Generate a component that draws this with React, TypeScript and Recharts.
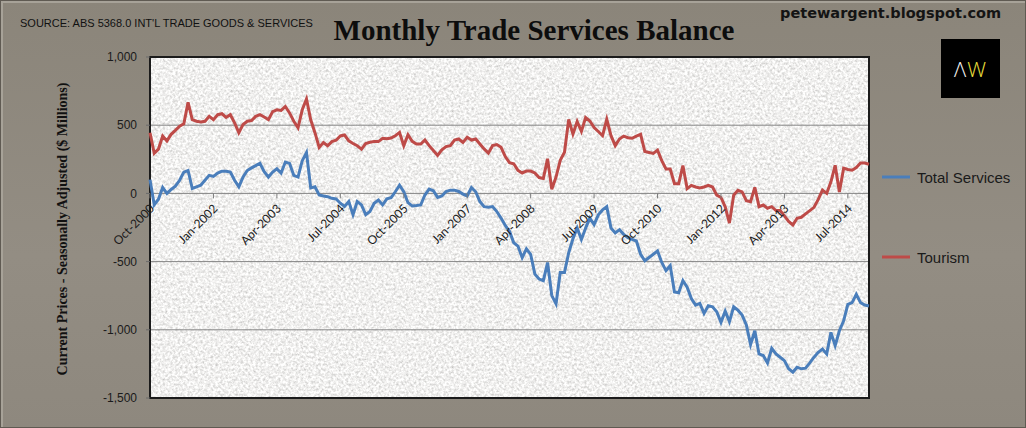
import React from 'react';
import {
  LineChart,
  Line,
  XAxis,
  YAxis,
  CartesianGrid,
  ReferenceDot,
  ReferenceArea,
  Legend,
} from 'recharts';

const MONTH_NAMES = ['Jan', 'Feb', 'Mar', 'Apr', 'May', 'Jun', 'Jul', 'Aug', 'Sep', 'Oct', 'Nov', 'Dec'];
const START_YEAR = 2000;
const START_MONTH = 9; // Oct-2000

// Total services balance, $m, monthly from Oct-2000
const TOTAL_SERVICES = [
  101, -84, -43, 43, 0, 29, 53, 96, 156, 168,
  36, 48, 60, 96, 132, 125, 149, 163, 163, 156,
  96, 48, 120, 168, 187, 204, 221, 160, 120, 156,
  180, 149, 230, 220, 132, 120, 240, 300, 40, 48,
  -12, -19, -24, -36, -41, -72, -96, -60, -156, -60,
  -84, -156, -132, -72, -48, -84, -40, -31, 12, 60,
  12, -68, -92, -89, -85, -12, 31, 19, -29, -19,
  14, 24, 24, 14, -5, -19, 43, 12, -60, -97,
  -101, -97, -133, -181, -235, -278, -362, -386, -471, -406,
  -447, -592, -628, -640, -507, -749, -809, -580, -580, -435,
  -333, -254, -338, -254, -181, -229, -157, -121, -97, -254,
  -290, -266, -300, -325, -337, -349, -446, -494, -470, -446,
  -422, -506, -566, -530, -723, -728, -639, -687, -771, -819,
  -807, -880, -824, -831, -868, -945, -863, -940, -831, -856,
  -892, -964, -1108, -1007, -1177, -1189, -1243, -1136, -1177, -1201,
  -1226, -1286, -1310, -1274, -1286, -1281, -1243, -1201, -1165, -1141,
  -1177, -1019, -1116, -1007, -934, -813, -801, -740, -801, -818, -825,
];

// Tourism balance, $m
const TOURISM = [
  445, 294, 325, 421, 385, 433, 462, 493, 510, 668,
  541, 529, 524, 529, 565, 541, 577, 584, 558, 577,
  517, 445, 505, 529, 534, 565, 577, 560, 541, 600,
  613, 608, 637, 590, 529, 481, 613, 692, 540, 445,
  337, 373, 349, 380, 390, 421, 428, 385, 366, 349,
  325, 366, 375, 380, 380, 404, 400, 406, 423, 447,
  350, 430, 382, 362, 362, 391, 350, 314, 278, 319,
  343, 350, 391, 399, 374, 411, 391, 399, 362, 326,
  295, 350, 358, 338, 270, 225, 217, 169, 150, 164,
  164, 150, 116, 110, 254, 30, 120, 242, 302, 543,
  435, 527, 454, 556, 531, 483, 454, 423, 543, 423,
  350, 399, 420, 408, 404, 420, 433, 307, 300, 293,
  317, 240, 179, 179, 71, 71, 204, 35, 59, 47,
  40, 47, 59, 47, -13, -30, -98, -218, -13, 23,
  11, -53, -61, 44, -97, -85, -109, -97, -126, -126,
  -165, -206, -231, -182, -175, -150, -126, -102, -44, 24,
  0, 85, 206, 10, 185, 175, 170, 189, 223, 223, 214,
];

const MONTHS = TOTAL_SERVICES.map((_, i) => {
  const m = START_MONTH + i;
  return `${MONTH_NAMES[m % 12]}-${START_YEAR + Math.floor(m / 12)}`;
});

const TICK_LABELS = [
  'Oct-2000', 'Jan-2002', 'Apr-2003', 'Jul-2004', 'Oct-2005', 'Jan-2007',
  'Apr-2008', 'Jul-2009', 'Oct-2010', 'Jan-2012', 'Apr-2013', 'Jul-2014',
];
const Y_TICKS = [-1500, -1000, -500, 0, 500, 1000];

const data = MONTHS.map((m, i) => ({ m, total: TOTAL_SERVICES[i], tourism: TOURISM[i] }));

const BLUE = '#4a7ebb';
const RED = '#be4b48';

// tick mark + rotated label sitting on the zero line
function ZeroAxisTick(props: any) {
  const { cx, cy, label } = props;
  const tx = cx + 5;
  const ty = cy + 16;
  return (
    <g>
      <line x1={cx} y1={cy} x2={cx} y2={cy + 5} stroke="#7d7d7d" strokeWidth={1} />
      <text
        x={tx}
        y={ty}
        transform={`rotate(-45 ${tx} ${ty})`}
        textAnchor="end"
        fontFamily="Lato, 'Liberation Sans', sans-serif"
        fontSize={12}
        fill="#1a1a1a"
      >
        {label}
      </text>
    </g>
  );
}

function renderLegend(props: any) {
  const { payload = [] } = props;
  return (
    <div>
      {payload.map((entry: any) => (
        <div key={entry.value} style={{ display: 'flex', alignItems: 'center', height: 80 }}>
          <svg width={28} height={6} style={{ marginRight: 7 }}>
            <line x1={0} y1={3} x2={28} y2={3} stroke={entry.color} strokeWidth={3} />
          </svg>
          <span style={{ fontFamily: "'Liberation Sans', Arial, sans-serif", fontSize: 15, color: '#1a1a1a' }}>
            {entry.value}
          </span>
        </div>
      ))}
    </div>
  );
}

export default function App() {
  return (
    <div
      style={{
        position: 'absolute',
        left: 0,
        top: 0,
        width: 1026,
        height: 428,
        background: 'linear-gradient(180deg, #8b857a 0%, #938d83 60%, #8e887e 100%)',
        boxShadow: 'inset 0 0 0 1px #5f5a52, inset 2px 2px 0 1px #a7a298',
        overflow: 'hidden',
      }}
    >
      <svg width={0} height={0} style={{ position: 'absolute' }}>
        <defs>
          <filter id="grain" x="0" y="0" width="100%" height="100%">
            <feTurbulence type="fractalNoise" baseFrequency="0.4" numOctaves={4} seed={7} stitchTiles="stitch" />
            <feColorMatrix
              type="matrix"
              values="0.75 0 0 0 0.5  0.75 0 0 0 0.495  0.75 0 0 0 0.485  0 0 0 0 1"
            />
          </filter>
          <pattern id="stone" patternUnits="userSpaceOnUse" width={256} height={256}>
            <rect width={256} height={256} fill="#dcdad6" filter="url(#grain)" />
          </pattern>
        </defs>
      </svg>

      <div
        style={{
          position: 'absolute',
          left: 20,
          top: 17,
          fontFamily: "'Liberation Sans', Arial, sans-serif",
          fontSize: 11,
          color: '#111',
          whiteSpace: 'nowrap',
        }}
      >
        SOURCE: ABS 5368.0 INT'L TRADE GOODS &amp; SERVICES
      </div>
      <div
        style={{
          position: 'absolute',
          left: 534,
          top: 14,
          transform: 'translateX(-50%)',
          fontFamily: "'Liberation Serif', 'Times New Roman', serif",
          fontWeight: 'bold',
          fontSize: 29,
          color: '#0d0d0d',
          whiteSpace: 'nowrap',
        }}
      >
        Monthly Trade Services Balance
      </div>
      <div
        style={{
          position: 'absolute',
          left: 780,
          top: 5,
          fontFamily: "'DejaVu Sans', Tahoma, sans-serif",
          fontWeight: 'bold',
          fontSize: 14.5,
          color: '#141414',
          whiteSpace: 'nowrap',
        }}
      >
        petewargent.blogspot.com
      </div>
      <div
        style={{
          position: 'absolute',
          left: 941,
          top: 39,
          width: 59,
          height: 59,
          background: '#000',
          display: 'flex',
          alignItems: 'center',
          justifyContent: 'center',
          fontFamily: "'Open Sans', 'Liberation Sans', sans-serif",
          fontWeight: 300,
          fontSize: 21,
          letterSpacing: 1,
        }}
      >
        <span style={{ color: '#f2f2f2' }}>Λ</span>
        <span style={{ color: '#efe03c' }}>W</span>
      </div>
      <div
        style={{
          position: 'absolute',
          left: 63,
          top: 229,
          transform: 'translate(-50%, -50%) rotate(-90deg)',
          fontFamily: "'Liberation Serif', 'Times New Roman', serif",
          fontWeight: 'bold',
          fontSize: 14,
          color: '#111',
          whiteSpace: 'nowrap',
        }}
      >
        Current Prices - Seasonally Adjusted ($ Millions)
      </div>

      <LineChart
        width={1026}
        height={428}
        data={data}
        margin={{ top: 57, right: 157, bottom: 30, left: 90 }}
        style={{ position: 'absolute', left: 0, top: 0 }}
      >
        <CartesianGrid vertical={false} stroke="#858585" fill="url(#stone)" fillOpacity={1} />
        <XAxis dataKey="m" type="category" scale="point" hide />
        <YAxis
          domain={[-1500, 1000]}
          ticks={Y_TICKS}
          interval={0}
          width={60}
          axisLine={false}
          tickLine={{ stroke: '#6a6a6a' }}
          tickSize={4}
          tickMargin={9}
          tickFormatter={(v: number) => v.toLocaleString('en-US')}
          tick={{ fill: '#1a1a1a', fontSize: 12, fontFamily: "'Liberation Sans', Arial, sans-serif" }}
        />
        <ReferenceArea
          x1={MONTHS[0]}
          x2={MONTHS[MONTHS.length - 1]}
          y1={-1500}
          y2={1000}
          fill="none"
          stroke="#1b1b1b"
          strokeWidth={2}
        />
        <Line
          type="linear"
          dataKey="total"
          name="Total Services"
          stroke={BLUE}
          strokeWidth={3}
          dot={false}
          isAnimationActive={false}
        />
        <Line
          type="linear"
          dataKey="tourism"
          name="Tourism"
          stroke={RED}
          strokeWidth={3}
          dot={false}
          isAnimationActive={false}
        />
        {TICK_LABELS.map((t) => (
          <ReferenceDot
            key={t}
            x={t}
            y={0}
            r={0}
            shape={(p: any) => <ZeroAxisTick {...p} label={t} />}
          />
        ))}
        <Legend
          layout="vertical"
          align="center"
          verticalAlign="middle"
          wrapperStyle={{ left: 882, top: 137, width: 144 }}
          content={renderLegend}
        />
      </LineChart>
    </div>
  );
}
